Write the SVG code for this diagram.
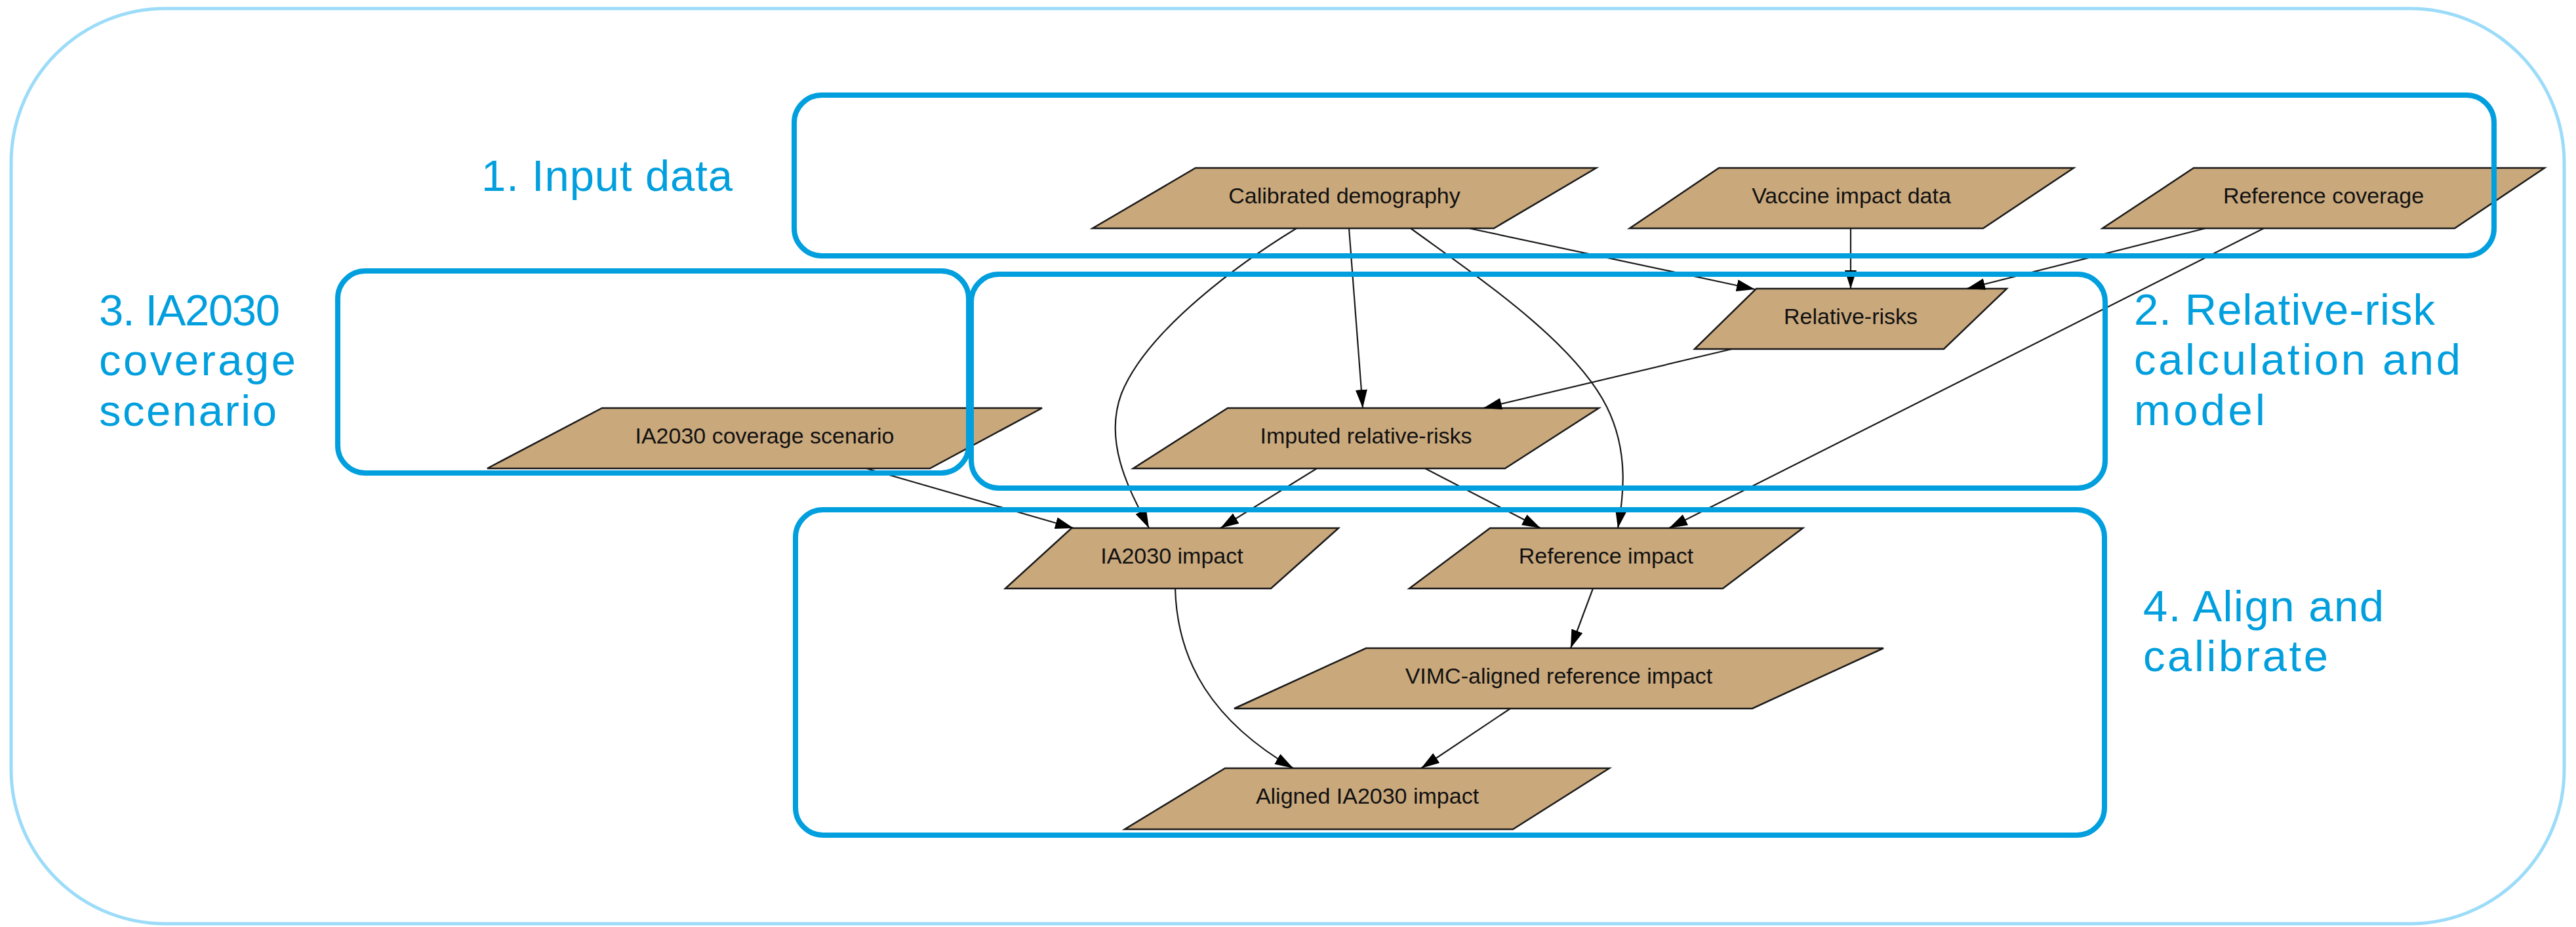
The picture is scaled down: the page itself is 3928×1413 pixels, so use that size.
<svg xmlns="http://www.w3.org/2000/svg" width="3928" height="1413" viewBox="0 0 3928 1413">
<style>
.bg{fill:#ffffff}
.outer{fill:none;stroke:#9cdcf9;stroke-width:5}
.cluster{fill:none;stroke:#019fde;stroke-width:8}
.node{fill:#c9a87c;stroke:#1a1a1a;stroke-width:2.5;stroke-linejoin:miter}
.nlabel{font-family:"Liberation Sans",Arial,sans-serif;font-size:34px;fill:#111111;text-anchor:middle}
.glabel{font-family:"Liberation Sans",Arial,sans-serif;font-size:67px;fill:#019fde}
.edge{fill:none;stroke:#1a1a1a;stroke-width:2.2;marker-end:url(#arrow)}
</style>
<defs>
<marker id="arrow" markerUnits="userSpaceOnUse" markerWidth="30" markerHeight="20" refX="28" refY="9" orient="auto" viewBox="0 0 30 20">
<path d="M0,0 L28,9 L0,18 z" fill="#000000"/>
</marker>
</defs>
<rect class="bg" x="0" y="0" width="3928" height="1413"/>
<rect class="outer" x="17" y="13" width="3893" height="1395" rx="235" ry="235"/>

<g id="nodes">
<g id="node-calibrated-demography">
<polygon class="node" points="1823,256 2434,256 2278,348 1666,348"/>
<text class="nlabel" x="2050" y="310">Calibrated demography</text>
</g>
<g id="node-vaccine-impact-data">
<polygon class="node" points="2621,256 3162,256 3024,348 2485,348"/>
<text class="nlabel" x="2823" y="310">Vaccine impact data</text>
</g>
<g id="node-reference-coverage">
<polygon class="node" points="3345,256 3880,256 3743,348 3206,348"/>
<text class="nlabel" x="3543" y="310">Reference coverage</text>
</g>
<g id="node-relative-risks">
<polygon class="node" points="2678,440 3060,440 2964,532 2584,532"/>
<text class="nlabel" x="2822" y="494">Relative-risks</text>
</g>
<g id="node-imputed-relative-risks">
<polygon class="node" points="1872,622 2438,622 2295,714 1728,714"/>
<text class="nlabel" x="2083" y="676">Imputed relative-risks</text>
</g>
<g id="node-ia2030-coverage-scenario">
<polygon class="node" points="918,622 1589,622 1418,714 743,714"/>
<text class="nlabel" x="1166" y="676">IA2030 coverage scenario</text>
</g>
<g id="node-ia2030-impact">
<polygon class="node" points="1634,805 2041,805 1938,897 1533,897"/>
<text class="nlabel" x="1787" y="859">IA2030 impact</text>
</g>
<g id="node-reference-impact">
<polygon class="node" points="2272,805 2749,805 2627,897 2149,897"/>
<text class="nlabel" x="2449" y="859">Reference impact</text>
</g>
<g id="node-vimc-aligned-reference-impact">
<polygon class="node" points="2083,988 2872,988 2672,1080 1882,1080"/>
<text class="nlabel" x="2377" y="1042">VIMC-aligned reference impact</text>
</g>
<g id="node-aligned-ia2030-impact">
<polygon class="node" points="1868,1171 2454,1171 2307,1264 1715,1264"/>
<text class="nlabel" x="2085" y="1225">Aligned IA2030 impact</text>
</g>
</g>

<g id="connectors">
<path class="edge" d="M2240,348 L2676,441"/>
<path class="edge" d="M2822,348 L2822,440"/>
<path class="edge" d="M3363,348 L2999,440"/>
<path class="edge" d="M3452,348 L2545,805"/>
<path class="edge" d="M2641,532 L2262,622"/>
<path class="edge" d="M2057,348 L2078,622"/>
<path class="edge" d="M1977,348 C1900,395 1750,500 1710,600 C1680,680 1730,760 1752,805"/>
<path class="edge" d="M2151,348 C2250,420 2400,520 2450,620 C2485,690 2475,760 2467,805"/>
<path class="edge" d="M2008,714 L1861,805"/>
<path class="edge" d="M2173,714 L2349,805"/>
<path class="edge" d="M1321,714 L1637,805"/>
<path class="edge" d="M2429,897 L2395,988"/>
<path class="edge" d="M1792,897 C1795,1010 1850,1100 1972,1171"/>
<path class="edge" d="M2303,1080 L2167,1171"/>
</g>

<g id="clusters">
<rect id="cluster-input" class="cluster" x="1211" y="145" width="2592" height="245" rx="42" ry="42"/>
<rect id="cluster-ia2030" class="cluster" x="515" y="413" width="962" height="308" rx="42" ry="42"/>
<rect id="cluster-relrisk" class="cluster" x="1481" y="418" width="1729" height="326" rx="42" ry="42"/>
<rect id="cluster-align" class="cluster" x="1213" y="777" width="1996" height="496" rx="42" ry="42"/>
</g>

<g id="labels">
<text class="glabel" x="734" y="291" textLength="383" lengthAdjust="spacing">1. Input data</text>
<text class="glabel" x="3254" y="495"><tspan x="3254" y="495" textLength="459" lengthAdjust="spacing">2. Relative-risk</tspan><tspan x="3254" y="571" textLength="498" lengthAdjust="spacing">calculation and</tspan><tspan x="3254" y="648" textLength="200" lengthAdjust="spacing">model</tspan></text>
<text class="glabel" x="151" y="496"><tspan x="151" y="496" textLength="276" lengthAdjust="spacing">3. IA2030</tspan><tspan x="151" y="572" textLength="300" lengthAdjust="spacing">coverage</tspan><tspan x="151" y="649" textLength="271" lengthAdjust="spacing">scenario</tspan></text>
<text class="glabel" x="3268" y="947"><tspan x="3268" y="947" textLength="367" lengthAdjust="spacing">4. Align and</tspan><tspan x="3268" y="1023" textLength="282" lengthAdjust="spacing">calibrate</tspan></text>
</g>
</svg>
